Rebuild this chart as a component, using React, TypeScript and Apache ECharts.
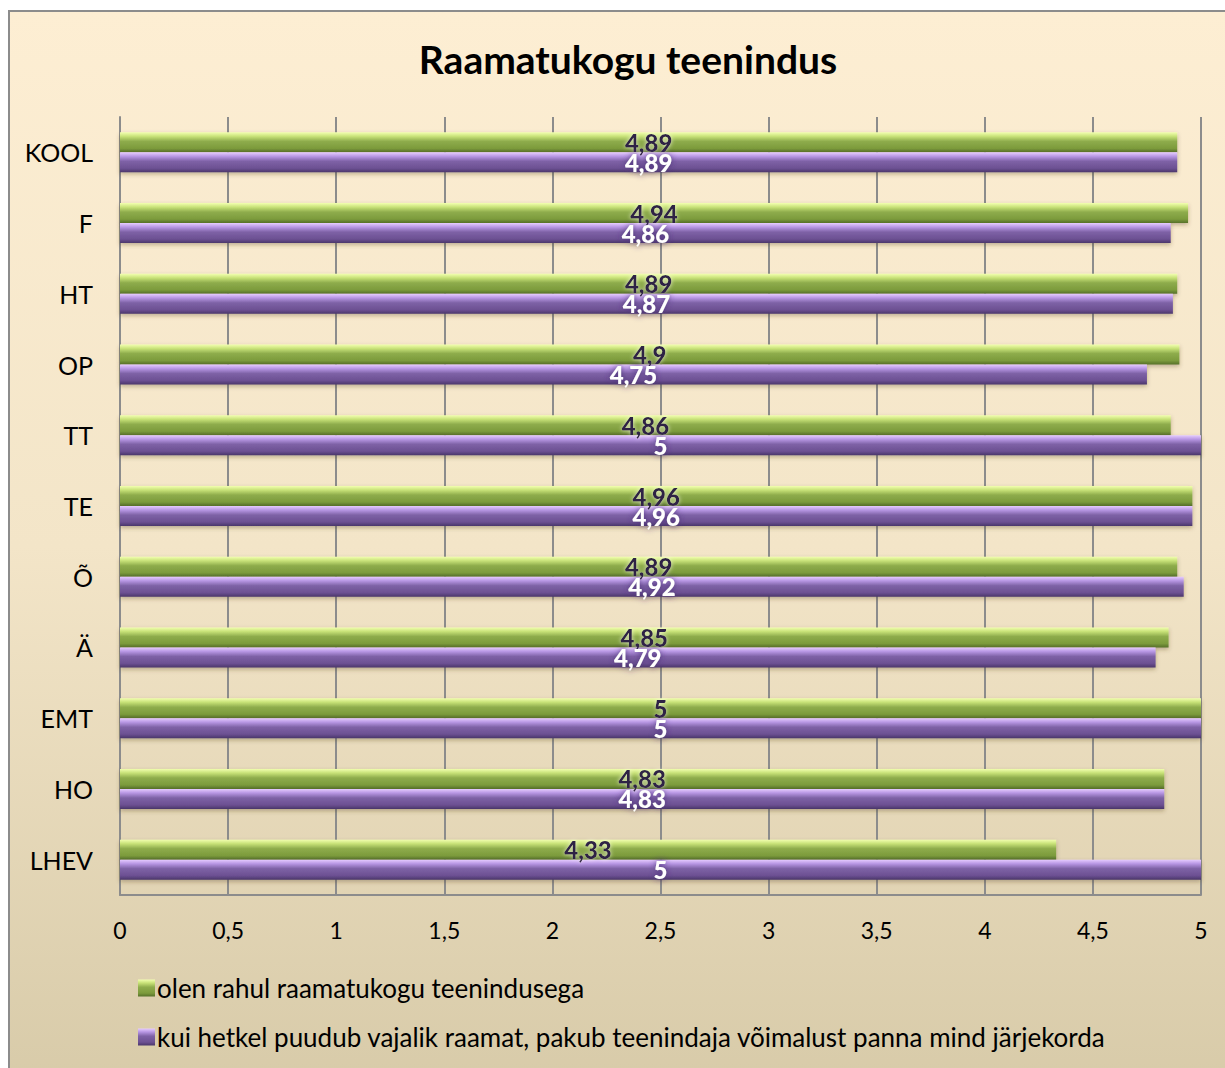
import React, { useEffect, useRef } from "react";
import * as echarts from "echarts";

const categories = ["LHEV", "HO", "EMT", "Ä", "Õ", "TE", "TT", "OP", "HT", "F", "KOOL"];
const satisfied = [4.33, 4.83, 5, 4.85, 4.89, 4.96, 4.86, 4.9, 4.89, 4.94, 4.89];
const queueOffer = [5, 4.83, 5, 4.79, 4.92, 4.96, 5, 4.75, 4.87, 4.86, 4.89];
const seriesNames = [
  "olen rahul raamatukogu teenindusega",
  "kui hetkel puudub vajalik raamat, pakub teenindaja võimalust panna mind järjekorda",
];
const xTicks = { min: 0, max: 5, interval: 0.5 };

const FONT = "Lato, 'Open Sans', sans-serif";

const fmt = (v: number) => String(v).replace(".", ",");

export default function App() {
  const ref = useRef<HTMLDivElement>(null);
  useEffect(() => {
    const chart = echarts.init(ref.current!, undefined, { renderer: "svg" });
    const greenGrad = new echarts.graphic.LinearGradient(0, 0, 0, 1, [
      { offset: 0, color: "#F2FFB0" },
      { offset: 0.2, color: "#C8E278" },
      { offset: 0.45, color: "#8EAC4C" },
      { offset: 0.8, color: "#7C9B3C" },
      { offset: 1, color: "#56702A" },
    ]);
    const purpleGrad = new echarts.graphic.LinearGradient(0, 0, 0, 1, [
      { offset: 0, color: "#E6CCFF" },
      { offset: 0.2, color: "#B897E4" },
      { offset: 0.45, color: "#7E62A6" },
      { offset: 0.8, color: "#6C5092" },
      { offset: 1, color: "#4A366A" },
    ]);
    chart.setOption({
      animation: false,
      backgroundColor: "#ffffff",
      textStyle: { fontFamily: FONT },
      graphic: [
        {
          type: "rect",
          z: -10,
          silent: true,
          shape: { x: 9, y: 11, width: 1230, height: 1070 },
          style: {
            fill: new echarts.graphic.LinearGradient(0, 0, 0, 1, [
              { offset: 0, color: "#FDEED3" },
              { offset: 0.5, color: "#F3E5C8" },
              { offset: 1, color: "#D8CBA9" },
            ]),
            stroke: "#8C8C8C",
            lineWidth: 2,
          },
        },
      ],
      title: {
        text: "Raamatukogu teenindus",
        left: 623,
        textAlign: "center",
        top: 34,
        textStyle: { fontFamily: FONT, fontSize: 39, fontWeight: "bold", color: "#000" },
      },
      legend: {
        orient: "vertical",
        left: 133,
        top: 970,
        itemGap: 23,
        itemWidth: 17,
        itemHeight: 17,
        icon: "rect",
        textStyle: { fontFamily: FONT, fontSize: 26, color: "#000", padding: [0, 0, 0, -3] },
        data: [seriesNames[0], seriesNames[1]],
      },
      grid: { left: 120, right: 24, top: 117, bottom: 173, containLabel: false },
      xAxis: {
        type: "value",
        min: xTicks.min,
        max: xTicks.max,
        interval: xTicks.interval,
        axisLine: { show: true, lineStyle: { color: "#8C8C8C", width: 2 } },
        axisTick: { show: false },
        splitLine: { show: true, lineStyle: { color: "#8C8C8C", width: 2 } },
        axisLabel: {
          margin: 23,
          fontSize: 23,
          color: "#000",
          fontFamily: FONT,
          formatter: (v: number) => fmt(v),
        },
      },
      yAxis: {
        type: "category",
        data: categories,
        axisLine: { show: true, lineStyle: { color: "#8C8C8C", width: 2 } },
        axisTick: { show: false },
        splitLine: { show: false },
        axisLabel: { margin: 27, fontSize: 25, color: "#000", fontFamily: FONT },
      },
      series: [
        {
          name: seriesNames[0],
          type: "bar",
          data: satisfied,
          barWidth: 20,
          barGap: "0%",
          itemStyle: {
            color: greenGrad,
            shadowColor: "rgba(80,60,20,0.35)",
            shadowBlur: 4,
            shadowOffsetY: 2,
          },
          label: {
            show: true,
            position: "inside",
            formatter: (p: any) => fmt(p.value),
            fontFamily: FONT,
            fontSize: 24,
            fontWeight: 900,
            color: "#2E2244",
            textShadowColor: "rgba(255,255,235,0.8)",
            textShadowBlur: 4,
          },
        },
        {
          name: seriesNames[1],
          type: "bar",
          data: queueOffer,
          barWidth: 20,
          barGap: "0%",
          itemStyle: {
            color: purpleGrad,
            shadowColor: "rgba(80,60,20,0.35)",
            shadowBlur: 4,
            shadowOffsetY: 2,
          },
          label: {
            show: true,
            position: "inside",
            formatter: (p: any) => fmt(p.value),
            fontFamily: FONT,
            fontSize: 24,
            fontWeight: 900,
            color: "#FFFFFF",
            textShadowColor: "#4B2F7A",
            textShadowBlur: 6,
          },
        },
      ],
    });
    return () => chart.dispose();
  }, []);
  return (
    <div
      ref={ref}
      style={{ position: "absolute", left: 0, top: 0, width: 1225, height: 1068 }}
    />
  );
}
